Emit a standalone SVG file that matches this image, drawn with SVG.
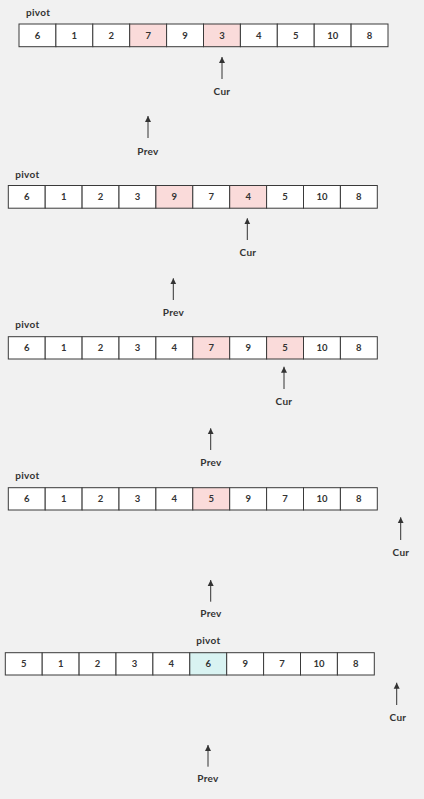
<svg xmlns="http://www.w3.org/2000/svg" width="424" height="799" viewBox="0 0 424 799">
<defs>
<style>
.bg{fill:#f1f1f1}
.c{fill:#ffffff;stroke:#3a3a3a;stroke-width:1}
.h{fill:#fadbda;stroke:#3a3a3a;stroke-width:1}
.t{fill:#d9f3f2;stroke:#3a3a3a;stroke-width:1}
.n{font-family:Lato,"Liberation Sans",sans-serif;font-size:9.5px;font-weight:bold;fill:#333;text-anchor:middle}
.w{font-family:Lato,"Liberation Sans",sans-serif;font-size:10px;font-weight:bold;fill:#333;text-anchor:middle;letter-spacing:0.3px}
.l{font-family:Lato,"Liberation Sans",sans-serif;font-size:10px;font-weight:bold;fill:#333;letter-spacing:0.3px}
.a{stroke:#333;stroke-width:1;fill:none;marker-end:url(#ah)}
</style>
<marker id="ah" viewBox="0 0 6 8" refX="6" refY="4" markerWidth="6" markerHeight="8" markerUnits="userSpaceOnUse" orient="auto">
<path d="M0,1 L6,4 L0,7 Z" fill="#333"/>
</marker>
</defs>
<rect class="bg" x="0" y="0" width="424" height="799"/>

<g id="row1" transform="translate(19,24)">
<text class="l" x="7" y="-8">pivot</text>
<rect class="c" x="0" y="0" width="36.9" height="22.7"/><text class="n" x="18.45" y="14.6">6</text>
<rect class="c" x="36.9" y="0" width="36.9" height="22.7"/><text class="n" x="55.35" y="14.6">1</text>
<rect class="c" x="73.8" y="0" width="36.9" height="22.7"/><text class="n" x="92.25" y="14.6">2</text>
<rect class="h" x="110.7" y="0" width="36.9" height="22.7"/><text class="n" x="129.15" y="14.6">7</text>
<rect class="c" x="147.6" y="0" width="36.9" height="22.7"/><text class="n" x="166.05" y="14.6">9</text>
<rect class="h" x="184.5" y="0" width="36.9" height="22.7"/><text class="n" x="202.95" y="14.6">3</text>
<rect class="c" x="221.4" y="0" width="36.9" height="22.7"/><text class="n" x="239.85" y="14.6">4</text>
<rect class="c" x="258.3" y="0" width="36.9" height="22.7"/><text class="n" x="276.75" y="14.6">5</text>
<rect class="c" x="295.2" y="0" width="36.9" height="22.7"/><text class="n" x="313.65" y="14.6">10</text>
<rect class="c" x="332.1" y="0" width="36.9" height="22.7"/><text class="n" x="350.55" y="14.6">8</text>
</g>

<g id="row2" transform="translate(8.3,185.5)">
<text class="l" x="7" y="-8">pivot</text>
<rect class="c" x="0" y="0" width="36.9" height="22.7"/><text class="n" x="18.45" y="14.6">6</text>
<rect class="c" x="36.9" y="0" width="36.9" height="22.7"/><text class="n" x="55.35" y="14.6">1</text>
<rect class="c" x="73.8" y="0" width="36.9" height="22.7"/><text class="n" x="92.25" y="14.6">2</text>
<rect class="c" x="110.7" y="0" width="36.9" height="22.7"/><text class="n" x="129.15" y="14.6">3</text>
<rect class="h" x="147.6" y="0" width="36.9" height="22.7"/><text class="n" x="166.05" y="14.6">9</text>
<rect class="c" x="184.5" y="0" width="36.9" height="22.7"/><text class="n" x="202.95" y="14.6">7</text>
<rect class="h" x="221.4" y="0" width="36.9" height="22.7"/><text class="n" x="239.85" y="14.6">4</text>
<rect class="c" x="258.3" y="0" width="36.9" height="22.7"/><text class="n" x="276.75" y="14.6">5</text>
<rect class="c" x="295.2" y="0" width="36.9" height="22.7"/><text class="n" x="313.65" y="14.6">10</text>
<rect class="c" x="332.1" y="0" width="36.9" height="22.7"/><text class="n" x="350.55" y="14.6">8</text>
</g>

<g id="row3" transform="translate(8.3,336.7)">
<text class="l" x="7" y="-8.5">pivot</text>
<rect class="c" x="0" y="0" width="36.9" height="22.3"/><text class="n" x="18.45" y="14.4">6</text>
<rect class="c" x="36.9" y="0" width="36.9" height="22.3"/><text class="n" x="55.35" y="14.4">1</text>
<rect class="c" x="73.8" y="0" width="36.9" height="22.3"/><text class="n" x="92.25" y="14.4">2</text>
<rect class="c" x="110.7" y="0" width="36.9" height="22.3"/><text class="n" x="129.15" y="14.4">3</text>
<rect class="c" x="147.6" y="0" width="36.9" height="22.3"/><text class="n" x="166.05" y="14.4">4</text>
<rect class="h" x="184.5" y="0" width="36.9" height="22.3"/><text class="n" x="202.95" y="14.4">7</text>
<rect class="c" x="221.4" y="0" width="36.9" height="22.3"/><text class="n" x="239.85" y="14.4">9</text>
<rect class="h" x="258.3" y="0" width="36.9" height="22.3"/><text class="n" x="276.75" y="14.4">5</text>
<rect class="c" x="295.2" y="0" width="36.9" height="22.3"/><text class="n" x="313.65" y="14.4">10</text>
<rect class="c" x="332.1" y="0" width="36.9" height="22.3"/><text class="n" x="350.55" y="14.4">8</text>
</g>

<g id="row4" transform="translate(8.3,487.7)">
<text class="l" x="7" y="-8.5">pivot</text>
<rect class="c" x="0" y="0" width="36.9" height="22.3"/><text class="n" x="18.45" y="14.4">6</text>
<rect class="c" x="36.9" y="0" width="36.9" height="22.3"/><text class="n" x="55.35" y="14.4">1</text>
<rect class="c" x="73.8" y="0" width="36.9" height="22.3"/><text class="n" x="92.25" y="14.4">2</text>
<rect class="c" x="110.7" y="0" width="36.9" height="22.3"/><text class="n" x="129.15" y="14.4">3</text>
<rect class="c" x="147.6" y="0" width="36.9" height="22.3"/><text class="n" x="166.05" y="14.4">4</text>
<rect class="h" x="184.5" y="0" width="36.9" height="22.3"/><text class="n" x="202.95" y="14.4">5</text>
<rect class="c" x="221.4" y="0" width="36.9" height="22.3"/><text class="n" x="239.85" y="14.4">9</text>
<rect class="c" x="258.3" y="0" width="36.9" height="22.3"/><text class="n" x="276.75" y="14.4">7</text>
<rect class="c" x="295.2" y="0" width="36.9" height="22.3"/><text class="n" x="313.65" y="14.4">10</text>
<rect class="c" x="332.1" y="0" width="36.9" height="22.3"/><text class="n" x="350.55" y="14.4">8</text>
</g>

<g id="row5" transform="translate(5.3,652.7)">
<text class="w" x="203" y="-8.5">pivot</text>
<rect class="c" x="0" y="0" width="36.9" height="22.3"/><text class="n" x="18.45" y="14.4">5</text>
<rect class="c" x="36.9" y="0" width="36.9" height="22.3"/><text class="n" x="55.35" y="14.4">1</text>
<rect class="c" x="73.8" y="0" width="36.9" height="22.3"/><text class="n" x="92.25" y="14.4">2</text>
<rect class="c" x="110.7" y="0" width="36.9" height="22.3"/><text class="n" x="129.15" y="14.4">3</text>
<rect class="c" x="147.6" y="0" width="36.9" height="22.3"/><text class="n" x="166.05" y="14.4">4</text>
<rect class="t" x="184.5" y="0" width="36.9" height="22.3"/><text class="n" x="202.95" y="14.4">6</text>
<rect class="c" x="221.4" y="0" width="36.9" height="22.3"/><text class="n" x="239.85" y="14.4">9</text>
<rect class="c" x="258.3" y="0" width="36.9" height="22.3"/><text class="n" x="276.75" y="14.4">7</text>
<rect class="c" x="295.2" y="0" width="36.9" height="22.3"/><text class="n" x="313.65" y="14.4">10</text>
<rect class="c" x="332.1" y="0" width="36.9" height="22.3"/><text class="n" x="350.55" y="14.4">8</text>
</g>

<g id="connectors">
<path class="a" d="M222,79 V57"/>
<path class="a" d="M148,138 V116"/>
<path class="a" d="M247.3,240 V218.3"/>
<path class="a" d="M173.3,300 V278.3"/>
<path class="a" d="M284,389 V366.7"/>
<path class="a" d="M210.7,450 V428.3"/>
<path class="a" d="M400.7,540 V517.3"/>
<path class="a" d="M210.7,601.7 V580"/>
<path class="a" d="M396.7,705 V682.7"/>
<path class="a" d="M208,766.7 V745"/>
</g>

<g id="labels">
<text class="w" x="222" y="94.5">Cur</text>
<text class="w" x="148" y="155">Prev</text>
<text class="w" x="248" y="255.5">Cur</text>
<text class="w" x="173.5" y="315.5">Prev</text>
<text class="w" x="284" y="405">Cur</text>
<text class="w" x="211" y="465.5">Prev</text>
<text class="w" x="401" y="555.5">Cur</text>
<text class="w" x="211" y="616.5">Prev</text>
<text class="w" x="398" y="720.5">Cur</text>
<text class="w" x="208" y="781.5">Prev</text>
</g>
</svg>
